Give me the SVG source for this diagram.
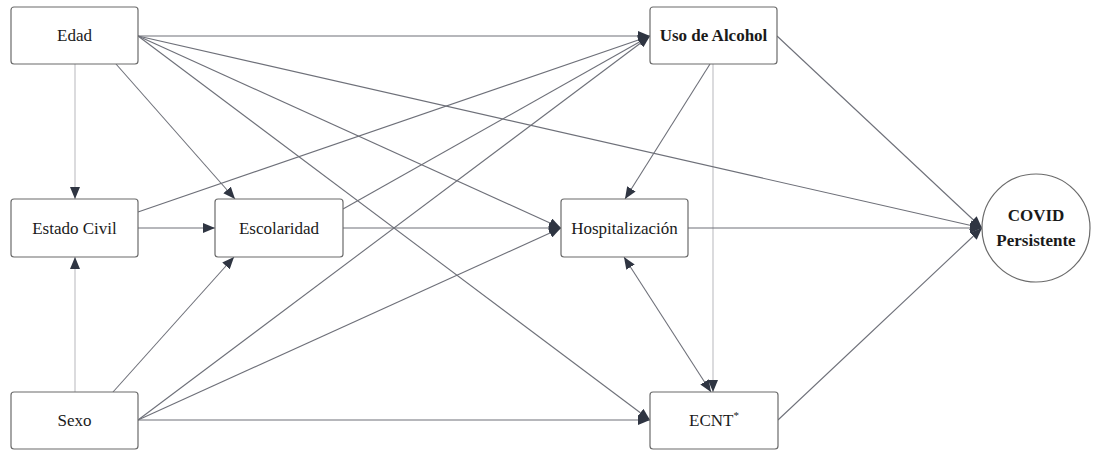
<svg xmlns="http://www.w3.org/2000/svg" width="1093" height="451" viewBox="0 0 1093 451">
<style>
.box{fill:#fff;stroke:#6b6b6b;stroke-width:1.2}
text{font-family:"Liberation Serif",serif;font-size:17px;fill:#1a1a1a;text-anchor:middle}
.b{font-weight:bold}
.e{fill:none;stroke:#6e7079;stroke-width:1.1}
.l{fill:none;stroke:#bdbdc2;stroke-width:1.1}
</style>
<defs>
<marker id="ah" viewBox="0 0 12 10" refX="12" refY="5" markerWidth="12" markerHeight="10" markerUnits="userSpaceOnUse" orient="auto-start-reverse">
<path d="M0,0 L12,5 L0,10 Z" fill="#2f3542"/>
</marker>
</defs>
<rect width="1093" height="451" fill="#fff"/>
<g id="connectors">
<line class="l" x1="75" y1="64" x2="75" y2="199" marker-end="url(#ah)"/>
<line class="l" x1="75" y1="392" x2="75" y2="257" marker-end="url(#ah)"/>
<line class="l" x1="713" y1="64" x2="713" y2="392" marker-end="url(#ah)"/>
<line class="e" x1="116" y1="64" x2="235" y2="199" marker-end="url(#ah)"/>
<line class="e" x1="138" y1="36" x2="650" y2="36" marker-end="url(#ah)"/>
<line class="e" x1="138" y1="36" x2="982" y2="228" marker-end="url(#ah)"/>
<line class="e" x1="138" y1="36" x2="561" y2="228" marker-end="url(#ah)"/>
<line class="e" x1="138" y1="36" x2="650" y2="420" marker-end="url(#ah)"/>
<line class="e" x1="138" y1="212" x2="650" y2="36" marker-end="url(#ah)"/>
<line class="e" x1="138" y1="228" x2="215" y2="228" marker-end="url(#ah)"/>
<line class="e" x1="343" y1="209" x2="650" y2="36" marker-end="url(#ah)"/>
<line class="e" x1="343" y1="228" x2="561" y2="228" marker-end="url(#ah)"/>
<line class="e" x1="113" y1="392" x2="234" y2="257" marker-end="url(#ah)"/>
<line class="e" x1="138" y1="420" x2="650" y2="36" marker-end="url(#ah)"/>
<line class="e" x1="138" y1="420" x2="561" y2="228" marker-end="url(#ah)"/>
<line class="e" x1="138" y1="420" x2="650" y2="420" marker-end="url(#ah)"/>
<line class="e" x1="710" y1="64" x2="625" y2="199" marker-end="url(#ah)"/>
<line class="e" x1="624" y1="257" x2="711" y2="392" marker-start="url(#ah)" marker-end="url(#ah)"/>
<line class="e" x1="777" y1="36" x2="982" y2="228" marker-end="url(#ah)"/>
<line class="e" x1="688" y1="228" x2="982" y2="228" marker-end="url(#ah)"/>
<line class="e" x1="778" y1="420" x2="982" y2="228" marker-end="url(#ah)"/>
</g>
<g id="edad"><rect class="box" x="11" y="7" width="127" height="57" rx="3"/><text x="74.5" y="41" font-family="Liberation Serif">Edad</text></g>
<g id="uso-alcohol"><rect class="box" x="650" y="7" width="127" height="57" rx="3"/><text class="b" x="713.5" y="41">Uso de Alcohol</text></g>
<g id="estado-civil"><rect class="box" x="11" y="199" width="127" height="58" rx="3"/><text x="74.5" y="233.5">Estado Civil</text></g>
<g id="escolaridad"><rect class="box" x="215" y="199" width="128" height="58" rx="3"/><text x="279" y="233.5">Escolaridad</text></g>
<g id="hospitalizacion"><rect class="box" x="561" y="199" width="127" height="58" rx="3"/><text x="624.5" y="233.5">Hospitalización</text></g>
<g id="sexo"><rect class="box" x="11" y="392" width="127" height="57" rx="3"/><text x="74.5" y="426">Sexo</text></g>
<g id="ecnt"><rect class="box" x="650" y="392" width="128" height="57" rx="3"/><text x="714" y="426">ECNT<tspan font-size="11" dy="-7">*</tspan></text></g>
<g id="covid"><circle cx="1036" cy="228" r="54" fill="#fff" stroke="#6b6b6b" stroke-width="1.2"/><text class="b" x="1036" y="221">COVID</text><text class="b" x="1036" y="246">Persistente</text></g>
</svg>
